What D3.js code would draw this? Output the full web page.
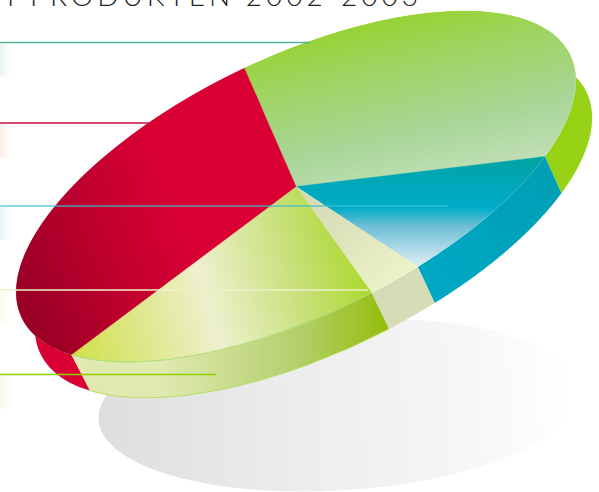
<!DOCTYPE html>
<html>
<head lang="en">
    <meta charset="UTF-8">
    <script src="https://cdn.jsdelivr.net/npm/d3@7"></script>
    <style>
        html, body { margin: 0; padding: 0; background: #fff; overflow: hidden; }
        svg { display: block; }
    </style>
</head>
<body>
<svg width="599" height="492"></svg>
<script>
    // slices, clockwise from the top of the disc
    var slices = ['green', 'teal', 'pale', 'yellow', 'red'];
    var values = [35.5, 10.3, 2.8, 19.2, 32.2];

    // leader lines, top to bottom
    var leaders = ['green', 'red', 'teal', 'pale', 'yellow'];
    var title = 'I PRODUKTEN 2002-2003';

    var svg = d3.select('svg');
    var defs = svg.append('defs');

    // disc is a circle squashed and turned
    var cx = 296, cy = 186.5;
    var R = 100, semiMajor = 304, semiMinor = 129, tilt = -25.6;
    var depthX = 17.5, depthY = 36.5, wallScale = 0.996;
    var startAngle = 0.0145;
    var rad = tilt * Math.PI / 180;

    var pie = d3.pie().sort(null).value(function (d) { return d.value; })
        .startAngle(startAngle).endAngle(startAngle + 2 * Math.PI);
    var arcs = pie(slices.map(function (s, i) { return {name: s, value: values[i]}; }));
    var arc = d3.arc().innerRadius(0).outerRadius(R);
    var rim = d3.arc().innerRadius(R).outerRadius(R);

    function project(a, k, dx, dy) {
        var u = Math.sin(a) * semiMajor * k, v = -Math.cos(a) * semiMinor * k;
        return [cx + u * Math.cos(rad) - v * Math.sin(rad) + dx,
                cy + u * Math.sin(rad) + v * Math.cos(rad) + dy];
    }

    function gradient(id, x1, y1, x2, y2, stops) {
        var g = defs.append('linearGradient').attr('id', id)
            .attr('gradientUnits', 'userSpaceOnUse')
            .attr('x1', x1).attr('y1', y1).attr('x2', x2).attr('y2', y2);
        stops.forEach(function (s) {
            g.append('stop').attr('offset', s[0]).attr('stop-color', s[1]);
        });
    }

    gradient('top-green', 385, 10, 425, 190, [[0, '#96d22a'], [0.3, '#9fd462'], [0.7, '#a9d69a'], [1, '#c4e1b8']]);
    gradient('top-teal', 0, 155, 0, 268, [[0, '#00a39f'], [0.28, '#00a8bc'], [0.47, '#00adc8'], [0.62, '#6bbdd5'], [1, '#e2f1f5']]);
    gradient('top-pale', 300, 190, 395, 285, [[0, '#d6d9b4'], [0.5, '#dfe4bd'], [1, '#ebf3c8']]);
    gradient('top-yellow', 72, 345, 372, 262, [[0, '#d0e04c'], [0.25, '#e0e892'], [0.46, '#edf0cd'], [0.75, '#c8e07a'], [1, '#a8d726']]);
    gradient('top-red', 25, 310, 190, 245, [[0, '#980024'], [0.55, '#bf002e'], [1, '#d90033']]);

    gradient('wall-yellow', 90, 0, 386, 0, [[0, '#dfe9b0'], [0.25, '#dfe9b0'], [0.7, '#b4cf6c'], [1, '#94be0c']]);
    gradient('wall-teal', 430, 300, 560, 190, [[0, '#00a8c4'], [1, '#009fb6']]);

    // shadow gradient runs in the ellipse's own coordinates
    gradient('shadow', -241, 0, 241, 0, [[0, '#dedede'], [0.45, '#eeeeee'], [0.75, '#f6f6f6'], [0.98, '#ffffff']]);

    var wallFill = {green: '#98d216', teal: 'url(#wall-teal)', pale: '#d5dcb6', yellow: 'url(#wall-yellow)', red: '#d90033'};
    var tintFill = {green: '#e9f5ee', red: '#fdeee8', teal: '#e8f6f8', pale: '#fbfcee', yellow: '#f5f9e4'};
    var leaderColor = {green: '#4fb3a0', red: '#c8103c', teal: '#3fbfd0', pale: '#ecf0c8', yellow: '#8ed000'};
    var leaderRow = {green: 42.5, red: 123, teal: 206, pale: 290, yellow: 374.5};
    var leaderEnd = {green: 310, red: 150, teal: 448, pale: 368, yellow: 216};
    var leaderOpacity = {green: 1, red: 1, teal: 0.8, pale: 1, yellow: 1};

    // title, only the feet of the letters are on the page
    svg.append('text')
        .attr('x', 7).attr('y', 6)
        .style('font-family', 'Lato, sans-serif')
        .style('font-weight', 300)
        .style('font-size', '28px')
        .style('letter-spacing', '4px')
        .attr('fill', '#222')
        .text(title);

    // shadow
    svg.append('ellipse')
        .attr('transform', 'translate(339,405) rotate(-3.5)')
        .attr('rx', 241).attr('ry', 85.5)
        .attr('fill', 'url(#shadow)');

    // faint tabs under each leader on the page edge
    leaders.forEach(function (name) {
        defs.append('linearGradient').attr('id', 'tab-' + name)
            .call(function (g) {
                g.append('stop').attr('offset', 0).attr('stop-color', tintFill[name]);
                g.append('stop').attr('offset', 1).attr('stop-color', tintFill[name]).attr('stop-opacity', 0);
            });
    });
    svg.selectAll('.tab')
        .data(leaders)
        .enter()
        .append('rect')
        .attr('x', 0)
        .attr('y', function (d) { return leaderRow[d] + 1; })
        .attr('width', 12)
        .attr('height', 33)
        .attr('fill', function (d) { return 'url(#tab-' + d + ')'; });

    // side walls, back to front does not matter, the top covers the rest
    var ribbon = d3.line();
    svg.selectAll('.wall')
        .data(arcs)
        .enter()
        .append('path')
        .attr('d', function (d) {
            var steps = d3.range(0, 61).map(function (i) {
                return d.startAngle + (d.endAngle - d.startAngle) * i / 60;
            });
            var upper = steps.map(function (a) { return project(a, 1, 0, 0); });
            var lower = steps.slice().reverse().map(function (a) { return project(a, wallScale, depthX, depthY); });
            return ribbon(upper.concat(lower)) + 'Z';
        })
        .attr('fill', function (d) { return wallFill[d.data.name]; });

    // top of the disc, gradients are in page space so the group gets no scale on them
    var discTransform = 'translate(' + cx + ',' + cy + ') rotate(' + tilt + ') scale(' + semiMajor / R + ',' + semiMinor / R + ')';
    var matrix = 'rotate(' + (-tilt) + ') translate(' + (-cx) + ',' + (-cy) + ')';
    slices.forEach(function (name) {
        // bring the page space gradient into the squashed group
        d3.select('#top-' + name).attr('gradientTransform',
            'scale(' + R / semiMajor + ',' + R / semiMinor + ') ' + matrix);
    });
    var disc = svg.append('g').attr('transform', discTransform);
    disc.selectAll('.slice')
        .data(arcs)
        .enter()
        .append('path')
        .attr('d', arc)
        .attr('fill', function (d) { return 'url(#top-' + d.data.name + ')'; })
        .attr('stroke', function (d) { return 'url(#top-' + d.data.name + ')'; })
        .attr('stroke-width', 0.15);

    // thin light rim on the yellow slice
    var yellow = arcs[slices.indexOf('yellow')];
    disc.append('path')
        .attr('d', rim(yellow))
        .attr('fill', 'none')
        .attr('stroke', '#a9dc78')
        .attr('stroke-width', 0.25);
    svg.append('path')
        .attr('transform', 'translate(' + depthX + ',' + depthY + ') ' + discTransform + ' scale(' + wallScale + ')')
        .attr('d', rim(yellow))
        .attr('fill', 'none')
        .attr('stroke', '#b5de60')
        .attr('stroke-width', 0.25);

    // leader lines over everything
    svg.selectAll('.leader')
        .data(leaders)
        .enter()
        .append('line')
        .attr('x1', 0)
        .attr('x2', function (d) { return leaderEnd[d]; })
        .attr('y1', function (d) { return leaderRow[d]; })
        .attr('y2', function (d) { return leaderRow[d]; })
        .attr('stroke', function (d) { return leaderColor[d]; })
        .attr('stroke-opacity', function (d) { return leaderOpacity[d]; })
        .attr('stroke-width', 1.6);
</script>
</body>
</html>
